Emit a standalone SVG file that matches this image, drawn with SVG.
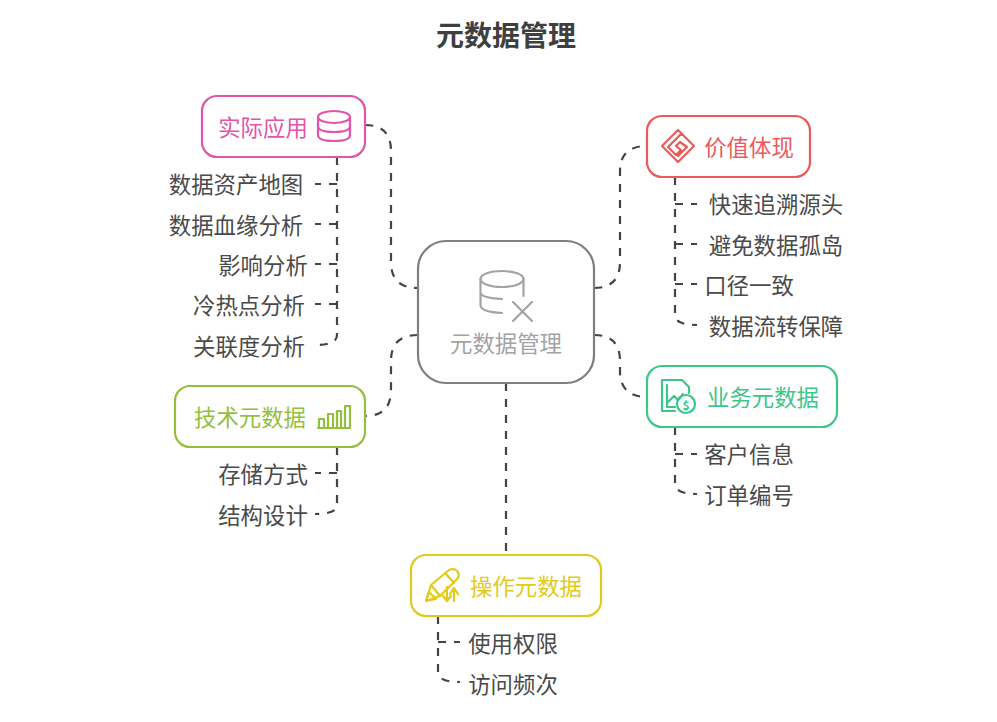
<svg xmlns="http://www.w3.org/2000/svg" width="997" height="722" viewBox="0 0 997 722">
<style>
text{font-family:"Noto Sans CJK SC","Noto Sans",sans-serif;font-size:22.4px;dominant-baseline:central}
.t{fill:#4a4a4a}
.c{fill:none;stroke:#444;stroke-width:2.2;stroke-dasharray:8 8}
.n{fill:#fff;stroke-width:2.2}
.i{fill:none;stroke-width:2.2;stroke-linejoin:round;stroke-linecap:round}
</style>
<rect width="997" height="722" fill="#fff"/>
<text x="506" y="34" text-anchor="middle" style="font-size:28px;font-weight:700" fill="#3f3f3f">元数据管理</text>
<g id="connectors">
<path class="c" d="M365 125Q391 125 391 151V262Q391 288 418 288"/>
<path class="c" d="M418 335Q391 335 391 361V390Q391 416 365 416"/>
<path class="c" d="M594 288Q620 288 620 262V171Q620 146 647 146"/>
<path class="c" d="M594 335Q620 335 620 361V371Q620 397 647 397"/>
<path class="c" d="M506 383V555"/>
<path class="c" d="M337 157V335Q337 345 315 345"/>
<path class="c" d="M337 184H315M337 224H315M337 264H315M337 304H315"/>
<path class="c" d="M337 447V505Q337 514 315 514"/>
<path class="c" d="M337 473H315"/>
<path class="c" d="M675 177V315Q675 325 697 325"/>
<path class="c" d="M675 204H697M675 244H697M675 284H697"/>
<path class="c" d="M675 427V484Q675 494 697 494"/>
<path class="c" d="M675 454H697"/>
<path class="c" d="M438 616V672Q438 682 460 682"/>
<path class="c" d="M438 642H460"/>
</g>
<g id="center">
<rect class="n" x="418" y="241" width="176" height="142" rx="28" stroke="#7f7f7f"/>
<g class="i" stroke="#a3a3a3">
<ellipse cx="502" cy="279" rx="21.500" ry="8"/>
<path d="M480.500 279V305Q480.500 312 502 313M480.500 292Q480.500 298 502 299M523.500 279V296"/>
<path d="M513 302L532 321M532 302L513 321"/>
</g>
<text x="506" y="342" text-anchor="middle" fill="#a3a3a3">元数据管理</text>
</g>
<g id="app">
<rect class="n" x="202" y="96" width="163" height="61" rx="15" stroke="#e353a8"/>
<text x="263" y="126" text-anchor="middle" fill="#e353a8">实际应用</text>
<g class="i" stroke="#e353a8">
<ellipse cx="334" cy="117" rx="16" ry="6"/>
<path d="M318 117V135Q318 141 334 141T350 135V117M318 126Q318 132 334 132T350 126"/>
</g>
</g>
<g id="app-items" class="t">
<text x="236" y="183" text-anchor="middle" fill="#4a4a4a">数据资产地图</text>
<text x="236" y="224" text-anchor="middle" fill="#4a4a4a">数据血缘分析</text>
<text x="263" y="264" text-anchor="middle" fill="#4a4a4a">影响分析</text>
<text x="249" y="304" text-anchor="middle" fill="#4a4a4a">冷热点分析</text>
<text x="249" y="345" text-anchor="middle" fill="#4a4a4a">关联度分析</text>
</g>
<g id="tech">
<rect class="n" x="175" y="386" width="190" height="61" rx="15" stroke="#93bf3e"/>
<text x="250" y="416" text-anchor="middle" fill="#93bf3e">技术元数据</text>
<g class="i" stroke="#93bf3e">
<path d="M318 428H350M319 427V419H324V427M328 427V414H333V427M337 427V411H341V427M345 427V406H350V427"/>
</g>
</g>
<g id="tech-items">
<text x="263" y="473" text-anchor="middle" fill="#4a4a4a">存储方式</text>
<text x="263" y="514" text-anchor="middle" fill="#4a4a4a">结构设计</text>
</g>
<g id="value">
<rect class="n" x="647" y="116" width="163" height="61" rx="15" stroke="#eb5a5a"/>
<text x="749" y="146" text-anchor="middle" fill="#eb5a5a">价值体现</text>
<g class="i" stroke="#eb5a5a">
<path d="M678 130L694 146L678 162L662 146ZM681 134L668 147L676 155L681 150L676 146L680 142L687 147L678 156"/>
</g>
</g>
<g id="value-items">
<text x="776" y="203" text-anchor="middle" fill="#4a4a4a">快速追溯源头</text>
<text x="776" y="244" text-anchor="middle" fill="#4a4a4a">避免数据孤岛</text>
<text x="749" y="284" text-anchor="middle" fill="#4a4a4a">口径一致</text>
<text x="776" y="325" text-anchor="middle" fill="#4a4a4a">数据流转保障</text>
</g>
<g id="biz">
<rect class="n" x="647" y="366" width="190" height="61" rx="15" stroke="#3cc68a"/>
<text x="763" y="396" text-anchor="middle" fill="#3cc68a">业务元数据</text>
<g class="i" stroke="#3cc68a">
<path d="M675 411H662V380H682L689 387V393M667 385V407H675M668 402L674 396L678 400L683 394"/>
<circle cx="686" cy="404" r="9"/>
<text x="686" y="404" text-anchor="middle" stroke="none" fill="#3cc68a" style="font-size:12px;font-weight:700">$</text>
</g>
</g>
<g id="biz-items">
<text x="749" y="453" text-anchor="middle" fill="#4a4a4a">客户信息</text>
<text x="749" y="494" text-anchor="middle" fill="#4a4a4a">订单编号</text>
</g>
<g id="ops">
<rect class="n" x="411" y="555" width="190" height="61" rx="15" stroke="#e2ca1c"/>
<text x="526" y="585" text-anchor="middle" fill="#e2ca1c">操作元数据</text>
<g class="i" stroke="#e2ca1c">
<path d="M426 601L431 585L449 570Q454 568 457 571T458 578L440 596ZM431 585L440 596M446 574L454 583"/>
<path d="M426 601L436 599L429 592ZM447 587V601M443 596L447 601M447 601L451 596"/>
<path d="M454 601V589M450 594L454 588L458 594"/>
</g>
</g>
<g id="ops-items">
<text x="513" y="642" text-anchor="middle" fill="#4a4a4a">使用权限</text>
<text x="513" y="683" text-anchor="middle" fill="#4a4a4a">访问频次</text>
</g>
</svg>
